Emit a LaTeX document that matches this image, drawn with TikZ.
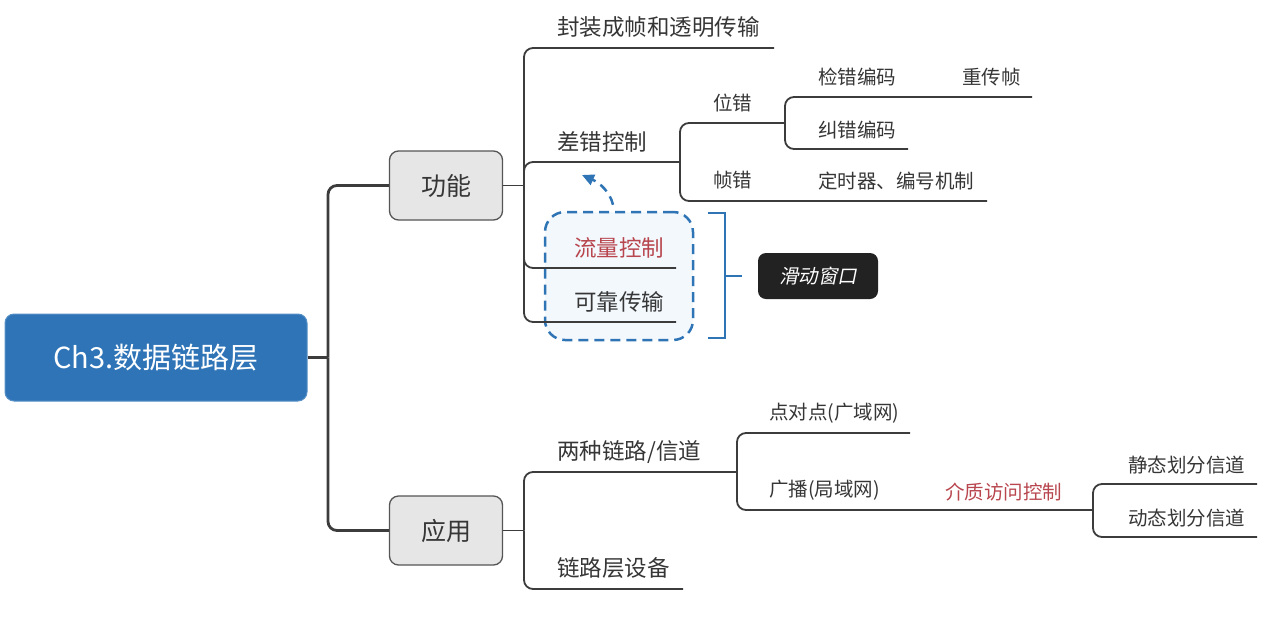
\documentclass[tikz,border=0pt]{standalone}
\usepackage{fontspec}
\setmainfont{Noto Sans CJK SC}
\newfontfamily\slantcjk[FakeSlant=0.2]{Noto Sans CJK SC}
\usetikzlibrary{arrows.meta}
\definecolor{rootblue}{HTML}{2E74B7}
\definecolor{txt}{HTML}{363636}
\definecolor{lin}{HTML}{3C3C3C}
\definecolor{redt}{HTML}{B8464E}
\definecolor{dashblue}{HTML}{2F75B5}
\definecolor{lightfill}{HTML}{F3F8FD}
\definecolor{greyfill}{HTML}{E6E6E6}
\definecolor{greyborder}{HTML}{555555}
\definecolor{darkbox}{HTML}{222222}
\begin{document}
\begin{tikzpicture}[x=1pt,y=-1pt,
  rootbox/.style={rectangle, rounded corners=9pt, fill=rootblue, draw=rootblue!80!white, line width=1pt,
    text=white, font=\fontsize{29}{34}\selectfont, minimum width=302pt, minimum height=87pt, inner sep=0pt},
  catbox/.style={rectangle, rounded corners=9pt, fill=greyfill, draw=greyborder, line width=1.3pt,
    text=txt, font=\fontsize{25}{30}\selectfont, minimum width=113pt, minimum height=69pt, inner sep=0pt},
  bigtxt/.style={anchor=west, inner sep=0pt, text=txt, font=\fontsize{22.5}{26}\selectfont},
  smalltxt/.style={anchor=west, inner sep=0pt, text=txt, font=\fontsize{19.5}{23}\selectfont},
  redtxt/.style={text=redt},
  trunk/.style={draw=lin, line width=2.8pt, rounded corners=9pt},
  branch/.style={draw=lin, line width=1.8pt, rounded corners=9pt},
  dashbox/.style={rectangle, rounded corners=20pt, draw=dashblue, fill=lightfill, line width=2.5pt,
    dash pattern=on 10pt off 6pt, minimum width=148pt, minimum height=128pt, inner sep=0pt},
  swbox/.style={rectangle, rounded corners=8pt, fill=darkbox, text=white, minimum width=120pt, minimum height=46pt,
    inner sep=0pt, font=\slantcjk\fontsize{19.5}{23}\selectfont},
  bluel/.style={draw=dashblue, line width=2.5pt}
]
\useasboundingbox (0,0) rectangle (1277,619);

% main nodes
\node[rootbox] (root) at (156,357.5) {Ch3.数据链路层};
\node[catbox] (gn) at (446,185.5) {功能};
\node[catbox] (yy) at (446,530.5) {应用};

% dashed highlight box
\node[dashbox] (fb) at (619,276) {};

% junction / line-end coordinates
\coordinate (j0) at (328,357.5);
\coordinate (j1) at (524,185.5);
\coordinate (j2) at (524,530.5);
\coordinate (e1) at (774,48);
\coordinate (cc) at (680,162);
\coordinate (e3) at (676,268);
\coordinate (e4) at (676,322);
\coordinate (wc) at (785,123);
\coordinate (zc) at (987,201);
\coordinate (jc1) at (1032,97);
\coordinate (jc2) at (908,149);
\coordinate (lt) at (737,472);
\coordinate (sb) at (683,589);
\coordinate (p2p) at (910,433);
\coordinate (bc) at (1093,510);
\coordinate (st) at (1257,484);
\coordinate (dt) at (1257,537);

% trunk
\draw[trunk] (root.east) -- (j0);
\draw[trunk] (j0) |- (gn.west);
\draw[trunk] (j0) |- (yy.west);

% function branches
\draw[branch] (gn.east) -- (j1);
\draw[branch] (j1) |- (e1);
\draw[branch] (j1) |- (cc);
\draw[branch] (j1) |- (e3);
\draw[branch] (j1) |- (e4);
\draw[branch] (cc) |- (wc);
\draw[branch] (cc) |- (zc);
\draw[branch] (wc) |- (jc1);
\draw[branch] (wc) |- (jc2);

% application branches
\draw[branch] (yy.east) -- (j2);
\draw[branch] (j2) |- (lt);
\draw[branch] (j2) |- (sb);
\draw[branch] (lt) |- (p2p);
\draw[branch] (lt) |- (bc);
\draw[branch] (bc) |- (st);
\draw[branch] (bc) |- (dt);

% texts
\node[bigtxt] (t1) at (557,27) {封装成帧和透明传输};
\node[bigtxt] (t2) at (557,142) {差错控制};
\node[bigtxt, redtxt] (t3) at (574,248) {流量控制};
\node[bigtxt] (t4) at (574,302) {可靠传输};
\node[smalltxt] (t5) at (713,103) {位错};
\node[smalltxt] (t6) at (713,180) {帧错};
\node[smalltxt] (t7) at (818,77) {检错编码};
\node[smalltxt] (t8) at (962,77) {重传帧};
\node[smalltxt] (t9) at (818,130) {纠错编码};
\node[smalltxt] (t10) at (818,181) {定时器、编号机制};
\node[bigtxt] (t11) at (557,452) {两种链路/信道};
\node[bigtxt] (t12) at (557,568) {链路层设备};
\node[smalltxt] (t13) at (769,413) {点对点(广域网)};
\node[smalltxt] (t14) at (769,490) {广播(局域网)};
\node[smalltxt, redtxt] (t15) at (945,492) {介质访问控制};
\node[smalltxt] (t16) at (1128,465) {静态划分信道};
\node[smalltxt] (t17) at (1128,518) {动态划分信道};

% dashed arrow
\coordinate (atip) at (582,175);
\draw[bluel, dash pattern=on 9pt off 6pt, -{Triangle[length=12pt,width=11pt]}]
  ([shift={(-6,-6)}]fb.north) .. controls (610,192) and (600,183) .. (atip);

% bracket and sliding window
\node[swbox] (sw) at (818,276) {滑动窗口};
\coordinate (bt) at (708,213);
\coordinate (bb) at (708,338);
\coordinate (bm) at (725,276);
\coordinate (bmt) at (742,276);
\draw[bluel] (bt) -- ++(17,0) -- ++(0,125) -- (bb);
\draw[bluel] (bm) -- (bmt);
\end{tikzpicture}
\end{document}
